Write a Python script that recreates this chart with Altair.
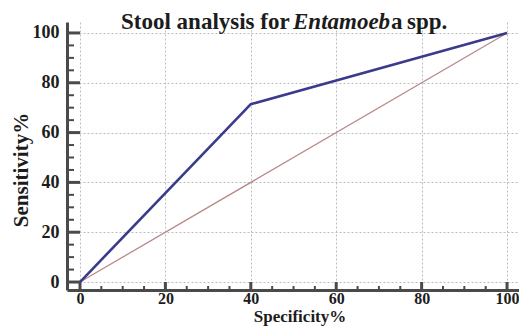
import altair as alt
import pandas as pd

# ---- data ----
spec_pct = [0, 40, 100]
sens_pct = [0, 71.4, 100]
ref_spec = [0, 100]
ref_sens = [0, 100]
major_ticks = [0, 20, 40, 60, 80, 100]
minor_ticks = [5, 10, 15, 25, 30, 35, 45, 50, 55, 65, 70, 75, 85, 90, 95]
title_parts = ["Stool analysis for", "Entamoeb", "a", "spp."]
title_styles = ["normal", "italic", "normal", "normal"]
title_x = [54, 226, 324, 340]
x_title = "Specificity%"
y_title = "Sensitivity%"

W, H = 452, 268
XDOM = [-3.04, 102.8]
YDOM = [-3.2, 104.4]
FONT = "Liberation Serif"
TXT = "#1c1c1c"
AX = "#4a4a4a"

xs = alt.Scale(domain=XDOM, nice=False, zero=False)
ys = alt.Scale(domain=YDOM, nice=False, zero=False)

x_axis = alt.Axis(values=major_ticks, grid=True, ticks=False, title=None,
                  labelPadding=0, format="d", labelFont=FONT, labelFontSize=16,
                  labelFontWeight="bold", labelColor=TXT)
y_axis = alt.Axis(values=major_ticks, grid=True, ticks=False, title=None,
                  labelPadding=8, format="d", labelFont=FONT, labelFontSize=18,
                  labelFontWeight="bold", labelColor=TXT)

ref_df = pd.DataFrame({"x": ref_spec, "y": ref_sens})
roc_df = pd.DataFrame({"x": spec_pct, "y": sens_pct})

ref_line = alt.Chart(ref_df).mark_line(color="#b88a8a", strokeWidth=1.3).encode(
    x=alt.X("x:Q", scale=xs, axis=x_axis),
    y=alt.Y("y:Q", scale=ys, axis=y_axis),
)

roc_line = alt.Chart(roc_df).mark_line(color="#3b3b8c", strokeWidth=2.6).encode(
    x=alt.X("x:Q", scale=xs),
    y=alt.Y("y:Q", scale=ys),
)

maj_df = pd.DataFrame({"v": major_ticks})
min_df = pd.DataFrame({"v": minor_ticks})

y_major = alt.Chart(maj_df).mark_rule(color=AX, strokeWidth=3).encode(
    y=alt.Y("v:Q", scale=ys), x=alt.value(0), x2=alt.value(13))
y_minor = alt.Chart(min_df).mark_rule(color=AX, strokeWidth=2).encode(
    y=alt.Y("v:Q", scale=ys), x=alt.value(0), x2=alt.value(7))
x_major = alt.Chart(maj_df).mark_rule(color=AX, strokeWidth=3).encode(
    x=alt.X("v:Q", scale=xs), y=alt.value(H), y2=alt.value(H - 8))
x_minor = alt.Chart(min_df).mark_rule(color=AX, strokeWidth=2).encode(
    x=alt.X("v:Q", scale=xs), y=alt.value(H), y2=alt.value(H - 4))

title_layers = []
for txt, st, px in zip(title_parts, title_styles, title_x):
    title_layers.append(
        alt.Chart(pd.DataFrame({"t": [txt]})).mark_text(
            font=FONT, fontSize=23, fontWeight="bold", fontStyle=st,
            color=TXT, align="left", baseline="alphabetic",
        ).encode(text="t:N", x=alt.value(px), y=alt.value(7))
    )

xt = alt.Chart(pd.DataFrame({"t": [x_title]})).mark_text(
    font=FONT, fontSize=17, fontWeight="bold", color=TXT,
    align="center", baseline="alphabetic",
).encode(text="t:N", x=alt.value(233), y=alt.value(299.5))

yt = alt.Chart(pd.DataFrame({"t": [y_title]})).mark_text(
    font=FONT, fontSize=21, fontWeight="bold", color=TXT,
    align="center", baseline="alphabetic", angle=270,
).encode(text="t:N", x=alt.value(-39), y=alt.value(148))

chart = alt.layer(
    ref_line, roc_line, y_major, y_minor, x_major, x_minor, xt, yt, *title_layers
).properties(
    width=W, height=H,
    autosize=alt.AutoSizeParams(type="none"),
    padding={"left": 59, "top": 14, "right": 0, "bottom": 36},
).configure_view(stroke=None).configure_axis(
    domainColor=AX, domainWidth=3,
    gridColor="#bdbdbd", gridDash=[2, 2], gridWidth=1,
)

chart.save("out.html", embed_options={"renderer": "svg", "actions": False})
